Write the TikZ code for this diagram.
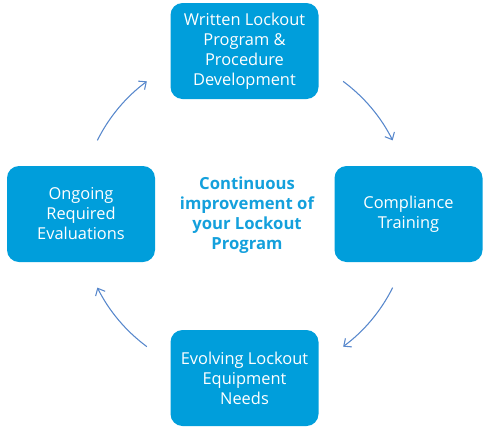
\documentclass[tikz,border=0pt]{standalone}
\usepackage{fontspec}
\setmainfont{Open Sans}
\usetikzlibrary{arrows.meta}

\definecolor{boxblue}{RGB}{0,158,219}
\definecolor{hubblue}{RGB}{20,160,220}
\definecolor{arcblue}{RGB}{88,136,204}

\tikzset{
  stagebox/.style={rectangle, rounded corners=9pt, fill=boxblue, text=white,
    minimum width=111pt, minimum height=72pt, align=center,
    font=\fontsize{12.3}{15}\selectfont},
  cyclearrow/.style={draw=arcblue, line width=0.8pt,
    -{Straight Barb[length=4.5pt,width=8pt]}}
}

\begin{document}
\begin{tikzpicture}[x=0.75pt,y=-0.75pt]
		\useasboundingbox (0,0) rectangle (486,429);
		
		% Define points
		\coordinate (hub) at (245,214);
		
		% Draw boxes
		\node[stagebox] (written) at (244.5,51) {Written Lockout\\Program \&\\Procedure\\Development};
		\node[stagebox] (training) at (408.5,214) {Compliance\\Training};
		\node[stagebox] (needs) at (244.5,378) {Evolving Lockout\\Equipment\\Needs};
		\node[stagebox] (evals) at (81,214) {Ongoing\\Required\\Evaluations};
		
		% Center text
		\node[text=hubblue, align=center, font=\fontsize{12.5}{15}\selectfont\bfseries] (goal) at (247,215)
			{Continuous\\improvement of\\your Lockout\\Program};
		
		% Draw arrows
		\draw[cyclearrow] ([shift={(-53.5:165)}]hub) arc[start angle=-53.5, end angle=-26.5, radius=165];
		\draw[cyclearrow] ([shift={(26.5:165)}]hub) arc[start angle=26.5, end angle=53.5, radius=165];
		\draw[cyclearrow] ([shift={(126.5:165)}]hub) arc[start angle=126.5, end angle=153.5, radius=165];
		\draw[cyclearrow] ([shift={(-153.5:165)}]hub) arc[start angle=-153.5, end angle=-126.5, radius=165];
	\end{tikzpicture}
\end{document}
